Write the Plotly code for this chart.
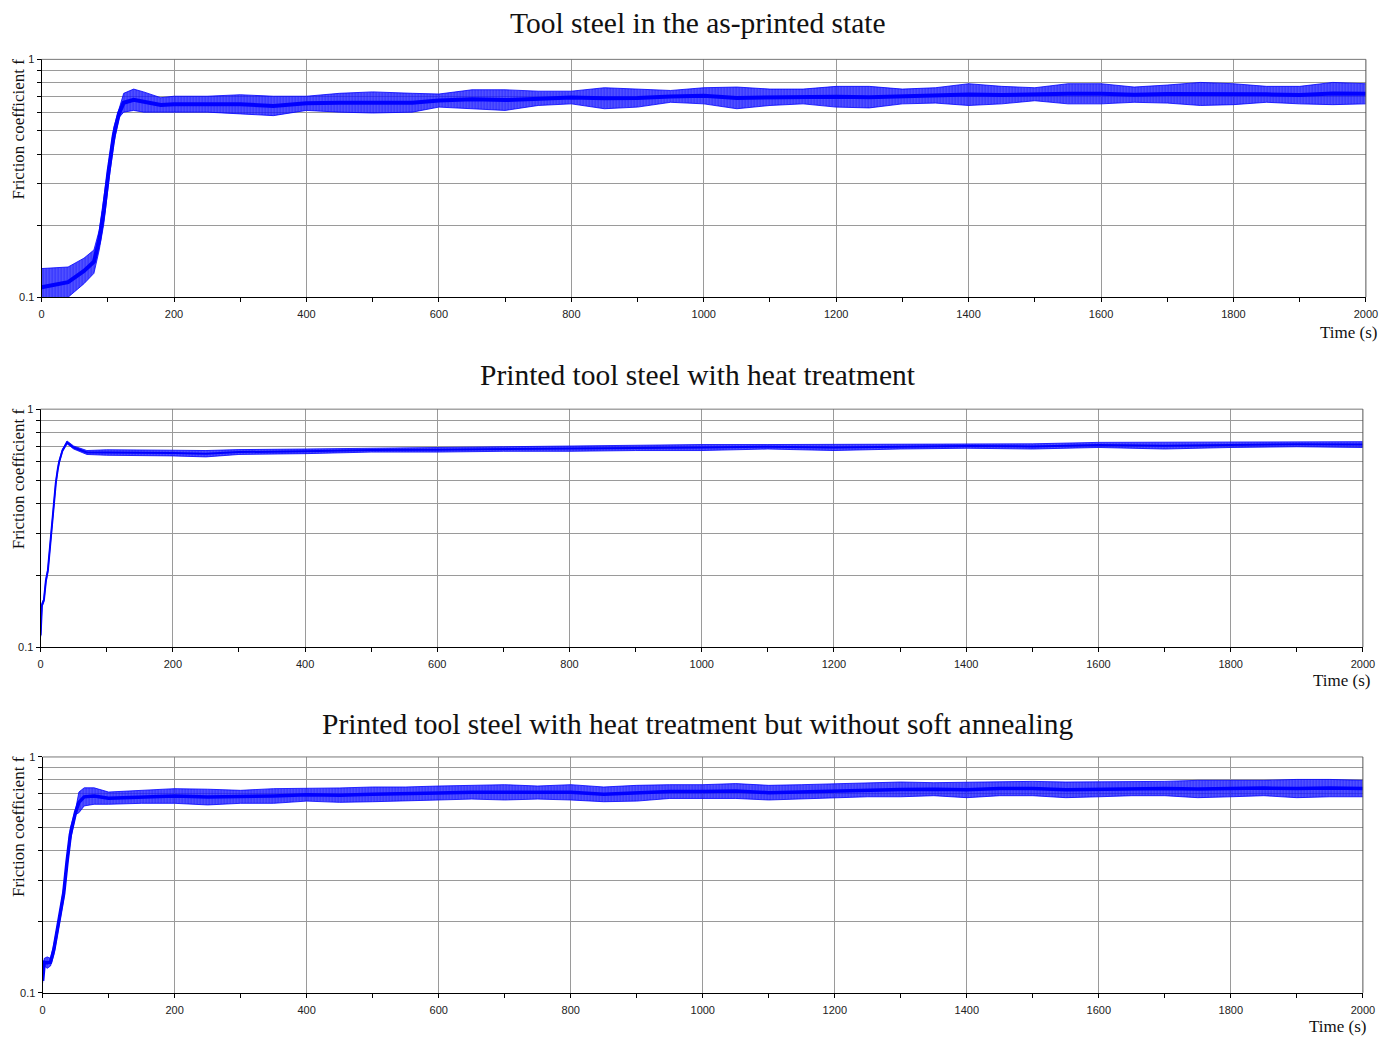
import numpy as np
import plotly.graph_objects as go

W, H = 1390, 1037

# ---------------- data ----------------
# Plot 1: Tool steel in the as-printed state  (upper / lower envelope of the oscillating signal)
t1 = [0, 20, 40, 64, 79, 87, 94, 101, 109, 117, 124, 139, 154, 180, 200, 250, 300, 350, 400, 450,
      500, 560, 600, 650, 700, 750, 800, 850, 900, 950, 1000, 1050, 1100, 1150, 1200, 1250, 1300,
      1350, 1400, 1450, 1500, 1550, 1600, 1650, 1700, 1750, 1800, 1850, 1900, 1950, 2000]
up1 = [0.132, 0.133, 0.134, 0.146, 0.158, 0.191, 0.263, 0.377, 0.518, 0.62, 0.72, 0.75, 0.73, 0.69,
       0.70, 0.70, 0.71, 0.70, 0.70, 0.72, 0.73, 0.72, 0.715, 0.745, 0.745, 0.735, 0.735, 0.76, 0.75,
       0.74, 0.76, 0.765, 0.75, 0.75, 0.77, 0.77, 0.75, 0.76, 0.79, 0.77, 0.76, 0.79, 0.79, 0.765,
       0.78, 0.80, 0.79, 0.77, 0.77, 0.80, 0.79]
lo1 = [0.092, 0.096, 0.100, 0.114, 0.126, 0.158, 0.204, 0.301, 0.443, 0.57, 0.60, 0.61, 0.60, 0.60,
       0.60, 0.60, 0.59, 0.58, 0.61, 0.60, 0.595, 0.60, 0.63, 0.62, 0.61, 0.64, 0.65, 0.62, 0.63,
       0.66, 0.65, 0.62, 0.64, 0.65, 0.63, 0.625, 0.65, 0.655, 0.64, 0.65, 0.67, 0.65, 0.65, 0.66,
       0.655, 0.64, 0.645, 0.66, 0.65, 0.645, 0.65]

# Plot 2: Printed tool steel with heat treatment
t2 = [0, 2, 5, 8, 11, 14, 18, 20, 23, 26, 28, 33, 40, 50, 70, 100, 150, 200, 250, 300, 400, 500,
      600, 700, 800, 900, 1000, 1100, 1200, 1300, 1400, 1500, 1600, 1700, 1800, 1900, 2000]
up2 = [0.114, 0.153, 0.160, 0.193, 0.213, 0.264, 0.345, 0.405, 0.497, 0.567, 0.607, 0.678, 0.735,
       0.70, 0.67, 0.675, 0.675, 0.672, 0.67, 0.676, 0.68, 0.687, 0.69, 0.695, 0.70, 0.705, 0.71,
       0.71, 0.71, 0.71, 0.715, 0.715, 0.725, 0.725, 0.73, 0.73, 0.73]
lo2 = [0.110, 0.147, 0.155, 0.187, 0.207, 0.256, 0.335, 0.395, 0.483, 0.553, 0.593, 0.662, 0.715,
       0.68, 0.645, 0.64, 0.64, 0.636, 0.63, 0.645, 0.65, 0.66, 0.66, 0.665, 0.665, 0.67, 0.67,
       0.68, 0.67, 0.68, 0.685, 0.68, 0.69, 0.68, 0.69, 0.695, 0.69]

# Plot 3: Printed tool steel with heat treatment but without soft annealing
t3 = [0, 2.5, 7, 12, 17, 25, 32, 37, 42, 50, 55, 63, 78, 100, 150, 200, 250, 300, 350, 400, 450,
      500, 550, 600, 650, 700, 750, 800, 850, 900, 950, 1000, 1050, 1100, 1150, 1200, 1250, 1300,
      1350, 1400, 1450, 1500, 1550, 1600, 1650, 1700, 1750, 1800, 1850, 1900, 1950, 2000]
up3 = [0.115, 0.14, 0.142, 0.14, 0.16, 0.21, 0.28, 0.38, 0.50, 0.60, 0.71, 0.74, 0.74, 0.71, 0.722,
       0.734, 0.730, 0.722, 0.734, 0.734, 0.739, 0.746, 0.746, 0.753, 0.758, 0.763, 0.753, 0.763,
       0.746, 0.758, 0.763, 0.763, 0.771, 0.758, 0.763, 0.771, 0.778, 0.783, 0.778, 0.783, 0.788,
       0.788, 0.783, 0.783, 0.788, 0.788, 0.796, 0.796, 0.796, 0.803, 0.803, 0.796]
lo3 = [0.11, 0.13, 0.127, 0.13, 0.145, 0.195, 0.25, 0.34, 0.44, 0.57, 0.58, 0.62, 0.63, 0.63, 0.636,
       0.636, 0.626, 0.636, 0.636, 0.650, 0.642, 0.646, 0.650, 0.657, 0.663, 0.657, 0.663, 0.657,
       0.646, 0.650, 0.667, 0.667, 0.667, 0.657, 0.663, 0.672, 0.678, 0.678, 0.685, 0.672, 0.685,
       0.685, 0.672, 0.678, 0.685, 0.685, 0.672, 0.678, 0.685, 0.672, 0.678, 0.678]

titles = ["Tool steel in the as-printed state",
          "Printed tool steel with heat treatment",
          "Printed tool steel with heat treatment but without soft annealing"]
x_tickvals = [0, 200, 400, 600, 800, 1000, 1200, 1400, 1600, 1800, 2000]
y_tickvals = [0.1, 1]
y_ticktext = ["0.1", "1"]
y_minor = [0.2, 0.3, 0.4, 0.5, 0.6, 0.7, 0.8, 0.9]

# ---------------- layout geometry (target pixels, calibrated for rendering) ----------------
S, AX, AY = 0.989, 2.4, 5.6


def px(v):
    return (v - AX) / S


def py(v):
    return (v - AY) / S


panels = [  # left, right, top(y=1), bottom(y=0.1)
    (41, 1365, 59, 297),
    (40, 1362, 409, 647),
    (42, 1362, 757, 993),
]
title_y = [23, 375, 724]
time_pos = [(1348, 332), (1341, 680), (1337, 1027)]
core_w = [4, 2, 3.5]

series = [(t1, up1, lo1), (t2, up2, lo2), (t3, up3, lo3)]

fig = go.Figure()
BLUE = "#0000ff"
SERIF = "Liberation Serif, Times New Roman, serif"
SANS = "Liberation Sans, Arial, sans-serif"

annotations = []
shapes = []
for i, ((t, up, lo), (l, r, tp, bt)) in enumerate(zip(series, panels)):
    n = "" if i == 0 else str(i + 1)
    xa, ya = "x" + n, "y" + n
    up_a = np.array(up)
    lo_a = np.array(lo)
    mid = np.sqrt(up_a * lo_a)
    fig.add_trace(go.Scatter(x=t, y=up, mode="lines", line=dict(width=0.8, color=BLUE),
                             xaxis=xa, yaxis=ya, showlegend=False, hoverinfo="skip"))
    fig.add_trace(go.Scatter(x=t, y=lo, mode="lines", line=dict(width=0.8, color=BLUE),
                             fill="tonexty", fillcolor="rgba(0,0,255,0.75)",
                             fillpattern=dict(shape="|", fgcolor=BLUE, bgcolor="rgba(40,40,255,0.72)",
                                              size=3, solidity=0.6),
                             xaxis=xa, yaxis=ya, showlegend=False, hoverinfo="skip"))
    fig.add_trace(go.Scatter(x=t, y=mid, mode="lines", line=dict(width=core_w[i], color=BLUE),
                             xaxis=xa, yaxis=ya, showlegend=False))

    xdom = [px(l) / W, px(r) / W]
    ydom = [1 - py(bt) / H, 1 - py(tp) / H]
    fig.layout["xaxis" + n] = dict(
        domain=xdom, anchor=ya, range=[0, 2000], tickvals=x_tickvals,
        showgrid=True, gridcolor="#9a9a9a", gridwidth=1,
        showline=True, linecolor="black", linewidth=1,
        ticks="outside", ticklen=4, tickcolor="black", ticklabelstandoff=3,
        minor=dict(dtick=100, tick0=0, ticks="outside", ticklen=4, tickcolor="black", showgrid=False),
        tickfont=dict(family=SANS, size=11, color="#222"), zeroline=False,
    )
    fig.layout["yaxis" + n] = dict(
        domain=ydom, anchor=xa, type="log", range=[-1, 0],
        tickvals=y_tickvals, ticktext=y_ticktext,
        showgrid=True, gridcolor="#9a9a9a", gridwidth=1,
        showline=True, linecolor="black", linewidth=1,
        ticks="outside", ticklen=4, tickcolor="black",
        minor=dict(tickvals=y_minor, ticks="outside", ticklen=4, tickcolor="black",
                   showgrid=True, gridcolor="#9a9a9a", gridwidth=1),
        tickfont=dict(family=SANS, size=11, color="#222"), zeroline=False,
    )
    # frame top / right
    shapes.append(dict(type="line", xref="paper", yref="paper", x0=xdom[0], x1=xdom[1],
                       y0=ydom[1], y1=ydom[1], line=dict(color="#777", width=1)))
    shapes.append(dict(type="line", xref="paper", yref="paper", x0=xdom[1], x1=xdom[1],
                       y0=ydom[0], y1=ydom[1], line=dict(color="#555", width=1)))

    annotations.append(dict(text=titles[i], xref="paper", yref="paper", x=px(697) / W,
                            y=1 - py(title_y[i]) / H, xanchor="center", yanchor="middle",
                            showarrow=False, font=dict(family=SERIF, size=29.5, color="#111")))
    annotations.append(dict(text="Friction coefficient f", xref="paper", yref="paper",
                            x=px(18) / W, y=1 - py(tp - 3) / H, xanchor="center", yanchor="top",
                            textangle=-90, showarrow=False,
                            font=dict(family=SERIF, size=17, color="#111")))
    annotations.append(dict(text="Time (s)", xref="paper", yref="paper",
                            x=px(time_pos[i][0]) / W, y=1 - py(time_pos[i][1]) / H,
                            xanchor="center", yanchor="middle", showarrow=False,
                            font=dict(family=SERIF, size=17, color="#111")))

fig.update_layout(width=W, height=H, margin=dict(l=0, r=0, t=0, b=0),
                  paper_bgcolor="white", plot_bgcolor="white",
                  annotations=annotations, shapes=shapes, showlegend=False)

fig.write_html("out.html", config={"displayModeBar": False},
               post_script="document.body.style.margin='0';document.body.style.padding='0';"
                           "document.documentElement.style.overflow='hidden';")
